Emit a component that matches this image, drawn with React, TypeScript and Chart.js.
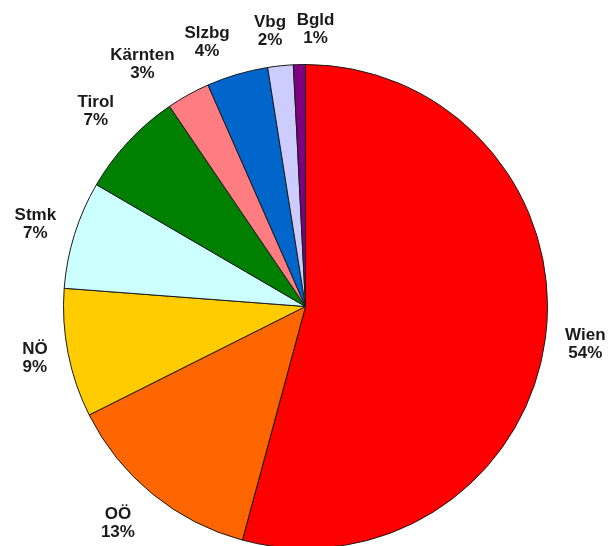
import React, { useEffect, useRef } from "react";
import { Chart, registerables } from "chart.js";

Chart.register(...registerables);

const regions: string[] = ["Wien", "OÖ", "NÖ", "Stmk", "Tirol", "Kärnten", "Slzbg", "Vbg", "Bgld"];
const shares: number[] = [54.2, 13.4, 8.6, 7.2, 7.1, 2.9, 4.1, 1.7, 0.8];
const sliceColors: string[] = [
  "#FF0000",
  "#FF6600",
  "#FFCC00",
  "#CCFFFF",
  "#008000",
  "#FF7C80",
  "#0066CC",
  "#CCCCFF",
  "#800080",
];
// per-label manual nudges (layout only, in px)
const labelNudges: [number, number][] = [
  [3, 1],
  [-13, 2],
  [-4, -2],
  [-3, 0],
  [-7, -6],
  [-22, 0],
  [-19, 2],
  [-7, 0],
  [17, 0],
];

const outsideLabels = {
  id: "outsideLabels",
  afterDatasetsDraw(chart: any) {
    const ctx = chart.ctx as CanvasRenderingContext2D;
    const meta = chart.getDatasetMeta(0);
    const gap = 17;
    const lineH = 18;
    ctx.save();
    ctx.font = "bold 17px 'Liberation Sans', Arial, sans-serif";
    ctx.fillStyle = "#1a1a1a";
    ctx.textAlign = "center";
    ctx.textBaseline = "middle";
    meta.data.forEach((arc: any, i: number) => {
      const props = arc.getProps(["x", "y", "startAngle", "endAngle", "outerRadius"], true);
      const mid = (props.startAngle + props.endAngle) / 2;
      const cx = Math.cos(mid);
      const cy = Math.sin(mid);
      const line1 = regions[i];
      const line2 = Math.round(shares[i]) + "%";
      const w = Math.max(ctx.measureText(line1).width, ctx.measureText(line2).width);
      const h = lineH * 2;
      const px = props.x + (props.outerRadius + gap) * cx + (cx * w) / 2 + labelNudges[i][0];
      const py = props.y + (props.outerRadius + gap) * cy + (cy * h) / 2 + labelNudges[i][1];
      ctx.fillText(line1, px, py - lineH / 2);
      ctx.fillText(line2, px, py + lineH / 2);
    });
    ctx.restore();
  },
};

export default function App() {
  const canvasRef = useRef<HTMLCanvasElement | null>(null);

  useEffect(() => {
    document.body.style.margin = "0";
    document.body.style.overflow = "hidden";
    const canvas = canvasRef.current;
    if (!canvas) return;
    const chart = new Chart(canvas, {
      type: "pie",
      data: {
        labels: regions,
        datasets: [
          {
            data: shares,
            backgroundColor: sliceColors,
            borderColor: "#1a1a1a",
            borderWidth: 1,
          },
        ],
      },
      options: {
        responsive: false,
        animation: false,
        layout: { padding: { left: 63, right: 61, top: 64, bottom: 64 } },
        plugins: {
          legend: { display: false },
          tooltip: { enabled: false },
        },
      },
      plugins: [outsideLabels],
    });
    return () => chart.destroy();
  }, []);

  return (
    <div
      style={{
        position: "fixed",
        left: 0,
        top: 0,
        width: 609,
        height: 546,
        overflow: "hidden",
        background: "#ffffff",
      }}
    >
      <canvas ref={canvasRef} width={609} height={613} style={{ display: "block", width: 609, height: 613 }} />
    </div>
  );
}
